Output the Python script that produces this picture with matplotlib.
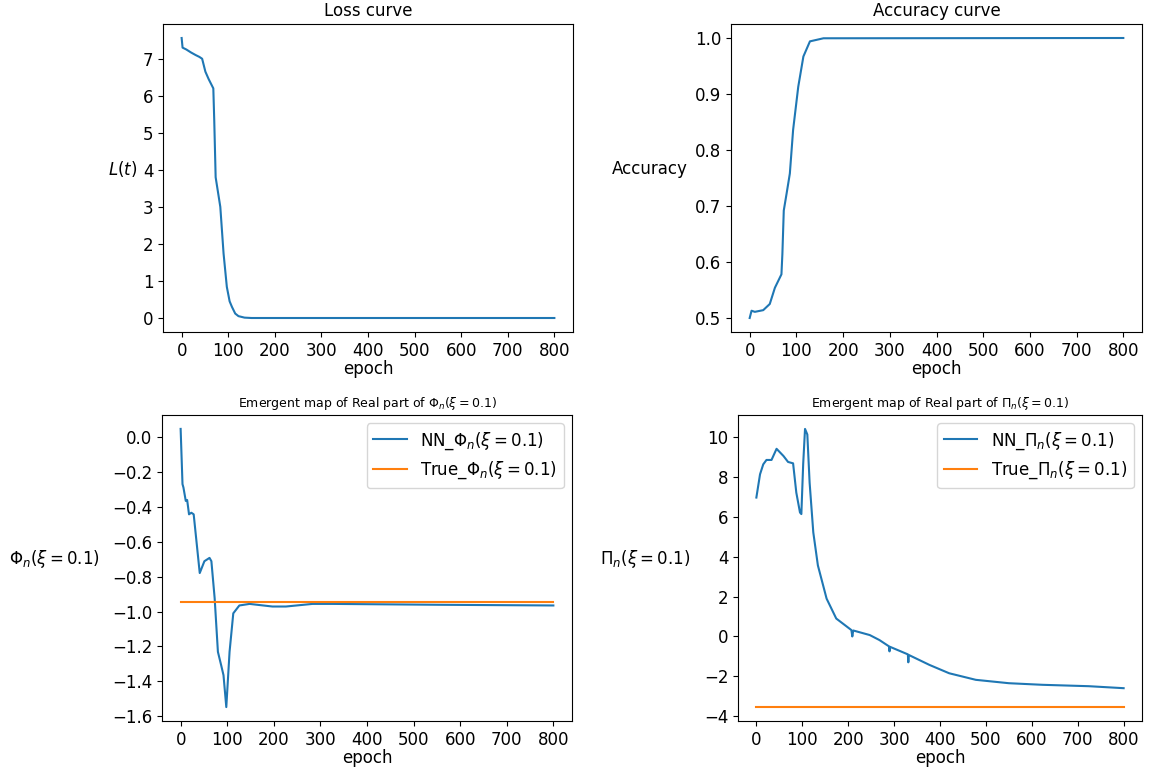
import numpy as np
import matplotlib
matplotlib.use("Agg")
import matplotlib.pyplot as plt

# values, (epoch, value) pairs along each curve
loss_epoch = [0, 2, 10, 20, 30, 38, 44, 51, 58, 62, 68, 70, 73, 78, 83, 90, 97, 103, 108, 115, 122, 135, 150, 800]
loss_value = [7.56, 7.3, 7.25, 7.17, 7.1, 7.05, 7.0, 6.65, 6.45, 6.35, 6.2, 5.33, 3.8, 3.4, 3.0, 1.74, 0.84, 0.45, 0.3, 0.12, 0.05, 0.01, 0.0, 0.0]

acc_epoch = [0, 4, 11, 29, 43, 54, 68, 70, 73, 79, 86, 93, 104, 115, 129, 158, 800]
acc_value = [0.50, 0.513, 0.511, 0.514, 0.525, 0.554, 0.578, 0.614, 0.692, 0.722, 0.758, 0.836, 0.913, 0.967, 0.994, 0.9995, 1.0]

phi_epoch = [0, 4, 6, 11, 14, 18, 23, 28, 41, 51, 62, 66, 73, 80, 87, 92, 98, 105, 113, 126, 148,
             197, 226, 283, 326, 554, 800]
phi_value = [0.048, -0.269, -0.288, -0.365, -0.36, -0.442, -0.433, -0.442, -0.779, -0.711, -0.692,
             -0.711, -0.923, -1.231, -1.308, -1.365, -1.548, -1.231, -1.01, -0.965, -0.956,
             -0.971, -0.971, -0.956, -0.956, -0.961, -0.965]
phi_true = -0.945

pi_epoch = [0, 8, 15, 22, 33, 44, 59, 69, 80, 87, 95, 98, 102, 106, 111, 116, 124, 134, 153, 174,
            207, 209, 211, 247, 268, 289, 290, 291, 330, 331, 332, 377, 420, 478, 550, 623, 724, 800]
pi_value = [6.98, 8.15, 8.65, 8.87, 8.87, 9.43, 9.07, 8.77, 8.7, 7.23, 6.23, 6.15, 8.67, 10.43, 10.15,
            7.73, 5.23, 3.57, 1.9, 0.9, 0.32, 0.0, 0.3, 0.07, -0.18, -0.5, -0.75, -0.52, -0.9, -1.3,
            -0.93, -1.43, -1.85, -2.18, -2.35, -2.43, -2.5, -2.6]
pi_true = -3.55

xticks = [0, 100, 200, 300, 400, 500, 600, 700, 800]

plt.rcParams["font.size"] = 12

fig = plt.figure(figsize=(11.5, 7.71), dpi=100)
W, H = 1150, 771


def add_ax(left, top, right, bottom):
    return fig.add_axes([left / W, 1 - bottom / H, (right - left) / W, (bottom - top) / H])


ax_loss = add_ax(163, 24, 573, 332)
ax_acc = add_ax(731, 24, 1142, 332)
ax_phi = add_ax(162, 415, 572, 721)
ax_pi = add_ax(738, 415, 1142, 721)

ax_loss.plot(loss_epoch, loss_value)
ax_loss.set_title("Loss curve", fontsize=12)
ax_loss.set_ylabel("$L(t)$", rotation=0, ha="right", va="center")
ax_loss.yaxis.set_label_coords(-0.063, 0.53)

ax_acc.plot(acc_epoch, acc_value)
ax_acc.set_title("Accuracy curve", fontsize=12)
ax_acc.set_ylabel("Accuracy", rotation=0, ha="right", va="center")
ax_acc.yaxis.set_label_coords(-0.105, 0.53)

ax_phi.plot(phi_epoch, phi_value, label=r"NN_$\Phi_n(\xi=0.1)$")
ax_phi.plot([0, 800], [phi_true, phi_true], label=r"True_$\Phi_n(\xi=0.1)$")
ax_phi.set_title(r"Emergent map of Real part of $\Phi_n(\xi=0.1)$", fontsize=9)
ax_phi.set_ylabel(r"$\Phi_n(\xi=0.1)$", rotation=0, ha="right", va="center")
ax_phi.yaxis.set_label_coords(-0.151, 0.53)
ax_phi.legend(loc="upper right", fontsize=12)

ax_pi.plot(pi_epoch, pi_value, label=r"NN_$\Pi_n(\xi=0.1)$")
ax_pi.plot([0, 800], [pi_true, pi_true], label=r"True_$\Pi_n(\xi=0.1)$")
ax_pi.set_title(r"Emergent map of Real part of $\Pi_n(\xi=0.1)$", fontsize=9)
ax_pi.set_ylabel(r"$\Pi_n(\xi=0.1)$", rotation=0, ha="right", va="center")
ax_pi.yaxis.set_label_coords(-0.119, 0.53)
ax_pi.legend(loc="upper right", fontsize=12)

for ax in (ax_loss, ax_acc, ax_phi, ax_pi):
    ax.set_xticks(xticks)
    ax.set_xlabel("epoch", labelpad=0)

fig.savefig("out.png", dpi=100)
